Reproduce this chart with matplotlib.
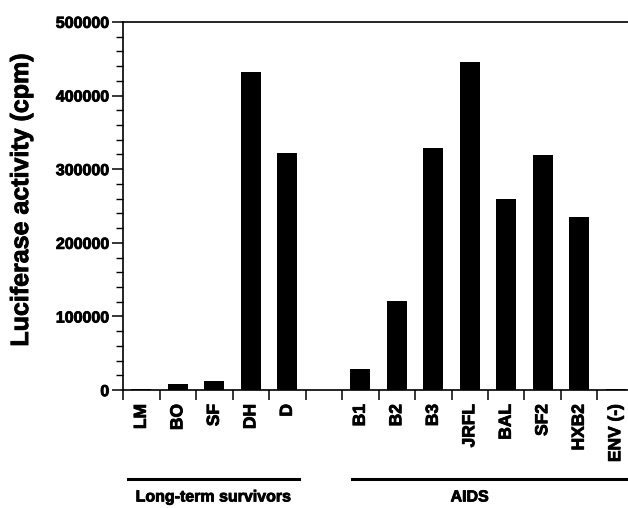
import numpy as np
import matplotlib.pyplot as plt
from matplotlib.ticker import MultipleLocator, FixedLocator, NullFormatter
import matplotlib.transforms as mtransforms
import matplotlib.patheffects as pe

plt.rcParams['font.family'] = ['Liberation Sans', 'DejaVu Sans']
plt.rcParams['font.weight'] = 'bold'

lts_labels = ['LM', 'BO', 'SF', 'DH', 'D']
lts_values = [2000, 9000, 13000, 432000, 322000]
aids_labels = ['B1', 'B2', 'B3', 'JRFL', 'BAL', 'SF2', 'HXB2', 'ENV (-)']
aids_values = [29000, 121000, 329000, 445000, 260000, 319000, 235000, 1000]
groups = ['Long-term survivors', 'AIDS']

lts_x = np.arange(len(lts_labels))
aids_x = np.arange(len(aids_labels)) + len(lts_labels) + 1

heavy = [pe.withStroke(linewidth=0.6, foreground='black')]

fig = plt.figure(figsize=(6.28, 5.08), dpi=100)
ax = fig.add_axes([0.196, 0.232, 0.81, 0.725])

ax.bar(lts_x, lts_values, width=0.54, color='black')
ax.bar(aids_x, aids_values, width=0.54, color='black')

ax.set_ylim(0, 500000)
ax.set_xlim(-0.5, 13.44)
ax.yaxis.set_major_locator(MultipleLocator(100000))
ax.yaxis.set_minor_locator(MultipleLocator(20000))
ax.tick_params(axis='y', which='major', length=8, width=1.1, labelsize=11.5, pad=2)
ax.tick_params(axis='y', which='minor', length=5, width=1.0)
for t in ax.get_yticklabels():
    t.set_fontweight('bold')
    t.set_path_effects(heavy)

all_x = np.concatenate([lts_x, aids_x])
ax.set_xticks(all_x)
ax.set_xticklabels(lts_labels + aids_labels, rotation=90, fontsize=12.5, fontweight='bold')
for t in ax.get_xticklabels():
    t.set_path_effects(heavy)
ax.xaxis.set_minor_locator(FixedLocator(np.arange(-0.5, 14, 1.0)))
ax.xaxis.set_minor_formatter(NullFormatter())
ax.tick_params(axis='x', which='major', length=0, pad=10)
ax.tick_params(axis='x', which='minor', length=7, width=1.1)

ax.spines['right'].set_visible(False)
for s in ['left', 'bottom', 'top']:
    ax.spines[s].set_linewidth(1.2)

ax.set_ylabel('Luciferase activity (cpm)', fontsize=18, fontweight='bold',
              path_effects=heavy)
ax.yaxis.set_label_coords(-0.177, 0.516)

trans = mtransforms.blended_transform_factory(ax.transData, ax.transAxes)
spans = [(lts_x[0] - 0.36, lts_x[-1] + 0.32), (aids_x[0] - 0.22, aids_x[-1] + 0.6)]
for name, (x0, x1) in zip(groups, spans):
    ax.plot([x0, x1], [-0.242, -0.242], color='black', lw=2.2,
            transform=trans, clip_on=False)
centers = [(spans[0][0] + spans[0][1]) / 2, (aids_x[0] + aids_x[-1]) / 2 - 0.5]
for name, cx in zip(groups, centers):
    ax.text(cx, -0.29, name, transform=trans, ha='center', va='center',
            fontsize=11.5, fontweight='bold', path_effects=heavy)

fig.savefig('out.png', dpi=100)
